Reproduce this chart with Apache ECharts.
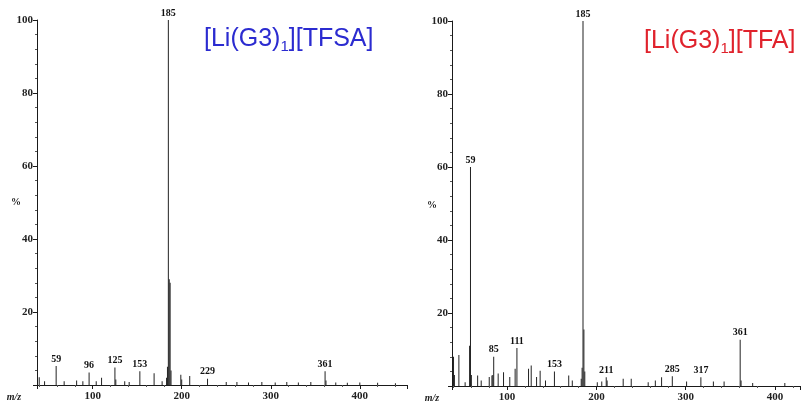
<!DOCTYPE html>
<html>
<head>
<meta charset="utf-8">
<script src="https://cdn.jsdelivr.net/npm/echarts@6/dist/echarts.min.js"></script>
<style>
html, body { margin: 0; padding: 0; background: #fff; }
#chart { width: 803px; height: 403px; }
</style>
</head>
<body>
<div id="chart"></div>
<script>
// [Li(G3)1][TFSA] spectrum (m/z, relative intensity %)
const leftMz = [40, 46, 59, 68, 82, 89, 96, 104, 110, 125, 126, 136, 141, 153, 169, 178, 183, 184, 185, 186, 187, 188, 199, 200, 209, 229, 250, 262, 275, 290, 305, 318, 331, 345, 361, 362, 373, 386, 400, 420, 440]
const leftPct = [2.1, 1, 5.2, 1, 1.2, 1, 3.4, 1, 2, 4.8, 1.5, 1, 0.8, 3.8, 3.2, 1, 2, 5, 100, 29, 28, 4, 2.8, 1.5, 2.5, 1.7, 0.8, 0.8, 0.7, 0.8, 0.7, 0.8, 0.7, 0.8, 3.8, 1.2, 0.7, 0.6, 0.7, 0.6, 0.5]
const leftLabeled = [59, 96, 125, 153, 185, 229, 361]

// [Li(G3)1][TFA] spectrum
const rightMz = [40, 41, 46, 53, 58, 59, 60, 67, 71, 80, 83, 84, 85, 90, 96, 103, 109, 111, 124, 127, 133, 137, 143, 153, 169, 173, 183, 184, 185, 186, 187, 201, 206, 211, 212, 230, 239, 258, 266, 273, 285, 301, 317, 331, 343, 361, 362, 375, 411]
const rightPct = [8, 3, 8.5, 1, 11, 60, 3, 2.9, 1.5, 2.5, 2.9, 3, 8, 3.4, 3.8, 2.5, 4.7, 10.4, 4.7, 5.6, 2.5, 4.2, 1.5, 4, 2.9, 1.5, 2, 5, 100, 15.5, 4, 1, 1.2, 2.4, 1.5, 2, 2, 1, 1.5, 2.4, 2.7, 1.2, 2.4, 1.2, 1.2, 12.7, 1.5, 0.8, 0.8]
const rightLabeled = [59, 85, 111, 153, 185, 211, 285, 317, 361]

const yTicks = [20, 40, 60, 80, 100]
const xTicks = [100, 200, 300, 400]

const serif = 'Liberation Serif'

function toItems (mz, pct, labeled) {
  return mz.map((m, i) => ({
    value: [m, pct[i]],
    label: { show: labeled.indexOf(m) >= 0 }
  }))
}

function xAxisOf (gridIndex, min, max) {
  return {
    gridIndex: gridIndex,
    type: 'value',
    min: min,
    max: max,
    splitNumber: 4,
    axisLine: { lineStyle: { color: '#1a1a1a', width: 1 } },
    axisTick: { length: 4, lineStyle: { color: '#1a1a1a' } },
    minorTick: { show: true, splitNumber: 5, length: 2, lineStyle: { color: '#555' } },
    splitLine: { show: false },
    axisLabel: {
      formatter: v => xTicks.indexOf(v) >= 0 ? String(v) : '',
      fontFamily: serif,
      fontWeight: 'bold',
      fontSize: 11,
      color: '#222',
      margin: 6
    }
  }
}

function yAxisOf (gridIndex) {
  return {
    gridIndex: gridIndex,
    type: 'value',
    min: 0,
    max: 100,
    interval: 20,
    axisLine: { show: true, lineStyle: { color: '#1a1a1a', width: 1 } },
    axisTick: { show: true, length: 4, lineStyle: { color: '#1a1a1a' } },
    minorTick: { show: true, splitNumber: 5, length: 2, lineStyle: { color: '#555' } },
    splitLine: { show: false },
    axisLabel: {
      formatter: v => yTicks.indexOf(v) >= 0 ? String(v) : '',
      fontFamily: serif,
      fontWeight: 'bold',
      fontSize: 11,
      color: '#222',
      margin: 4
    }
  }
}

function spectrum (idx, items) {
  return {
    type: 'bar',
    xAxisIndex: idx,
    yAxisIndex: idx,
    barWidth: 1,
    itemStyle: { color: '#222' },
    label: {
      show: false,
      position: 'top',
      distance: 2,
      fontFamily: serif,
      fontWeight: 'bold',
      fontSize: 10,
      color: '#111',
      formatter: p => String(p.value[0])
    },
    data: items
  }
}

function title (left, top, text, color) {
  return {
    type: 'text',
    left: left,
    top: top,
    style: {
      text: '{a|' + text[0] + '}{s|1}{a|' + text[1] + '}',
      rich: {
        a: { fontFamily: 'Liberation Sans', fontSize: 25, fill: color, lineHeight: 30 },
        s: { fontFamily: 'Liberation Sans', fontSize: 15, fill: color, lineHeight: 15, verticalAlign: 'bottom' }
      }
    }
  }
}

function axisText (x, y, text, italic) {
  return {
    type: 'text',
    x: x,
    y: y,
    style: {
      text: text,
      fontFamily: serif,
      fontWeight: 'bold',
      fontStyle: italic ? 'italic' : 'normal',
      fontSize: 10,
      fill: '#222',
      align: 'center',
      verticalAlign: 'middle'
    }
  }
}

const chart = echarts.init(document.getElementById('chart'))
const option = {
  animation: false,
  backgroundColor: '#fff',
  grid: [
    { left: 37, top: 20, width: 370, height: 365 },
    { left: 452, top: 21, width: 349, height: 365 }
  ],
  xAxis: [xAxisOf(0, 37.5, 453), xAxisOf(1, 38.3, 428)],
  yAxis: [yAxisOf(0), yAxisOf(1)],
  series: [
    spectrum(0, toItems(leftMz, leftPct, leftLabeled)),
    spectrum(1, toItems(rightMz, rightPct, rightLabeled))
  ],
  graphic: [
    title(204, 27, ['[Li(G3)', '][TFSA]'], '#2b2bd0'),
    title(644, 29, ['[Li(G3)', '][TFA]'], '#e0222c'),
    axisText(16, 202, '%', false),
    axisText(432, 205, '%', false),
    axisText(14, 397, 'm/z', true),
    axisText(432, 398, 'm/z', true)
  ]
}
chart.setOption(option)
window.addEventListener('resize', function () {
  chart.resize()
})
</script>
</body>
</html>
